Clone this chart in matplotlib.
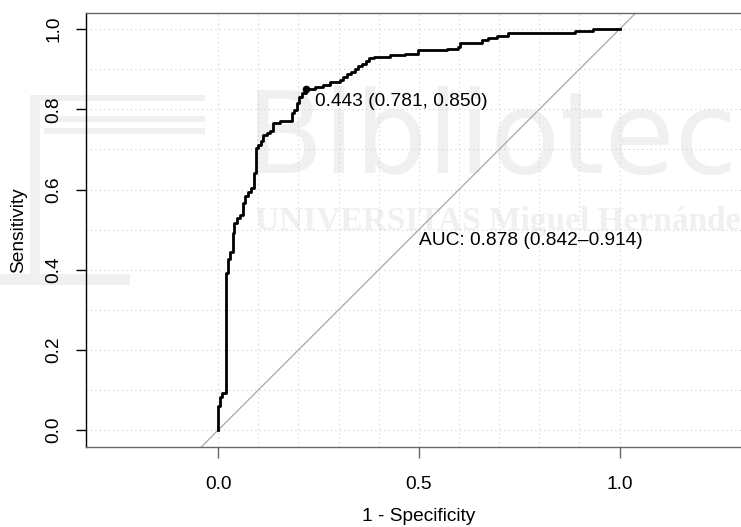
# coding=utf-8
import matplotlib
matplotlib.use('Agg')
import matplotlib.pyplot as plt
from matplotlib.patches import Rectangle

plt.rcParams['font.family'] = ['Liberation Sans', 'DejaVu Sans']

# ROC curve points: 1 - specificity and sensitivity (step curve)
fpr = [0.0, 0.0, 0.005, 0.011, 0.019, 0.026, 0.030, 0.036, 0.040, 0.047,
       0.055, 0.062, 0.067, 0.075, 0.083, 0.090, 0.095, 0.100, 0.106, 0.111,
       0.121, 0.130, 0.138, 0.154, 0.184, 0.188, 0.196, 0.202, 0.208, 0.219,
       0.242, 0.262, 0.279, 0.304, 0.311, 0.321, 0.331, 0.341, 0.349, 0.359,
       0.369, 0.376, 0.389, 0.428, 0.466, 0.499, 0.570, 0.598, 0.603, 0.657,
       0.672, 0.694, 0.723, 0.889, 0.935, 1.0]
tpr = [0.0, 0.061, 0.083, 0.093, 0.392, 0.426, 0.445, 0.491, 0.516, 0.529,
       0.537, 0.566, 0.583, 0.595, 0.603, 0.641, 0.703, 0.711, 0.720, 0.736,
       0.741, 0.745, 0.766, 0.770, 0.790, 0.799, 0.815, 0.832, 0.840, 0.850,
       0.857, 0.861, 0.869, 0.874, 0.881, 0.889, 0.894, 0.901, 0.908, 0.914,
       0.920, 0.928, 0.930, 0.935, 0.938, 0.947, 0.950, 0.956, 0.965, 0.974,
       0.978, 0.983, 0.990, 0.995, 1.0, 1.0]

# best threshold (Youden) and AUC with its confidence interval
best_threshold = 0.443
best_specificity = 0.781
best_sensitivity = 0.850

auc = 0.878
auc_ci_low = 0.842
auc_ci_high = 0.914

x_ticks = [0.0, 0.5, 1.0]
y_ticks = [0.0, 0.2, 0.4, 0.6, 0.8, 1.0]
grid_steps = [0.0, 0.1, 0.2, 0.3, 0.4, 0.5, 0.6, 0.7, 0.8, 0.9, 1.0]

FS = 13.8
WM = '#f0f0f0'


def add_watermark(fig):
    """Faint library watermark drawn behind the axes"""
    fig.text(0.332, 0.672, 'Biblioteca', fontsize=82, family='DejaVu Sans',
             color=WM, zorder=-1)
    fig.text(0.344, 0.563, 'UNIVERSITAS Miguel Hernández', fontsize=24,
             family='Liberation Serif', weight='bold', color=WM, zorder=-1)
    # bracket shaped logo on the left
    for x, y, w, h in [(0.040, 0.808, 0.237, 0.012),
                       (0.060, 0.768, 0.217, 0.012),
                       (0.060, 0.746, 0.217, 0.011),
                       (0.040, 0.469, 0.014, 0.351),
                       (0.000, 0.459, 0.175, 0.022)]:
        fig.add_artist(Rectangle((x, y), w, h, transform=fig.transFigure,
                                 facecolor=WM, edgecolor='none', zorder=-1))


def plot_roc():
    """Draw the ROC curve"""

    fig = plt.figure(figsize=(7.41, 5.27), dpi=100)
    ax = fig.add_axes([0.1161, 0.1524, 0.8982, 0.8235])
    ax.patch.set_alpha(0)

    add_watermark(fig)

    ax.set_xlim(-0.3288, 1.3288)
    ax.set_ylim(-0.041, 1.041)

    # dotted grid
    for g in grid_steps:
        ax.axhline(g, color='#cfcfcf', lw=0.8, ls=(0, (1, 3)), zorder=1)
        ax.axvline(g, color='#cfcfcf', lw=0.8, ls=(0, (1, 3)), zorder=1)

    # chance line
    ax.axline((0, 0), (1, 1), color='#a8a8a8', lw=0.9, zorder=2)

    ax.plot(fpr, tpr, drawstyle='steps-post', color='black', lw=2, zorder=3)

    # best threshold point
    bx = 1 - best_specificity
    ax.plot(bx, best_sensitivity, 'o', color='black', ms=4.5, zorder=4)
    ax.annotate('%.3f (%.3f, %.3f)' % (best_threshold, best_specificity, best_sensitivity),
                xy=(bx, best_sensitivity), xytext=(6.5, -8.5),
                textcoords='offset points', ha='left', va='center', fontsize=FS)

    ax.text(0.5, 0.472, 'AUC: %.3f (%.3f\u2013%.3f)' % (auc, auc_ci_low, auc_ci_high),
            ha='left', va='center', fontsize=FS)

    # axes
    ax.set_xticks(x_ticks)
    ax.set_xticklabels(['%.1f' % t for t in x_ticks])
    ax.set_yticks(y_ticks)
    ax.set_yticklabels(['%.1f' % t for t in y_ticks], rotation=90, va='center')
    ax.tick_params(axis='x', length=8, width=1, color='#666666', pad=13, labelsize=FS)
    ax.tick_params(axis='y', length=7.2, width=1, color='black', pad=10, labelsize=FS)

    ax.spines['right'].set_visible(False)
    ax.spines['top'].set_color('#666666')
    ax.spines['bottom'].set_color('#666666')
    ax.spines['left'].set_color('black')
    for s in ax.spines.values():
        s.set_linewidth(1)

    ax.set_xlabel('1 - Specificity', fontsize=FS)
    ax.xaxis.set_label_coords(0.5, -0.162)
    ax.xaxis.label.set_va('center')
    ax.set_ylabel('Sensitivity', fontsize=FS)
    ax.yaxis.set_label_coords(-0.102, 0.5)
    ax.yaxis.label.set_va('center')

    fig.savefig('out.png', dpi=100)


def main():
    """Main entry"""
    plot_roc()


if __name__ == '__main__':
    main()
